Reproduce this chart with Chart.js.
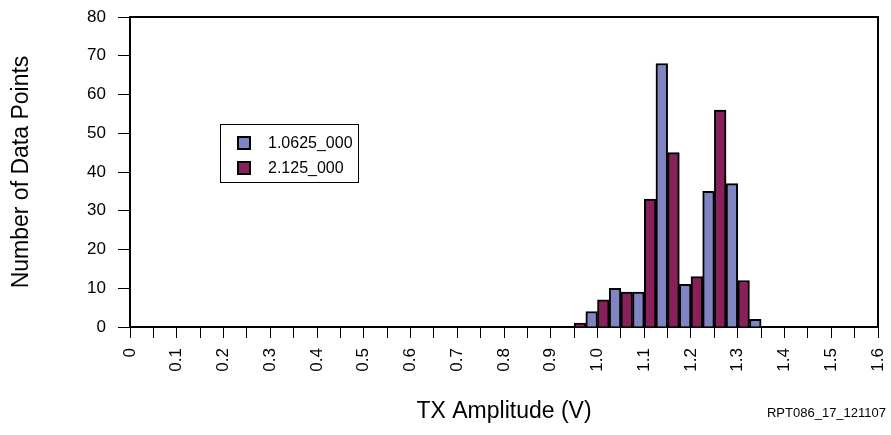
<!DOCTYPE html>
<html>
<head>
<meta charset="utf-8">
<script src="https://cdn.jsdelivr.net/npm/chart.js@4/dist/chart.umd.min.js"></script>
<style>
  html, body { margin: 0; padding: 0; background: #ffffff; }
  #wrap { width: 891px; height: 435px; position: relative; }
</style>
</head>
<body>
<div id="wrap"><canvas id="c" width="891" height="435"></canvas></div>
<script>
// Bins of width 0.05 V from 0 to 1.6 (labelled by their lower edge)
const binStarts = [];
for (let i = 0; i < 32; i++) binStarts.push((i * 5 / 100).toFixed(2));

// Counts per bin (only bins 0.95 .. 1.30 are non-zero)
const series1Label = '1.0625_000';
const series2Label = '2.125_000';
const series1Values = [0,0,0,0,0,0,0,0,0,0,0,0,0,0,0,0,0,0,0,4,10,9,68,11,35,37,2,0,0,0,0,0];
const series2Values = [0,0,0,0,0,0,0,0,0,0,0,0,0,0,0,0,0,0,0,1,7,9,33,45,13,56,12,0,0,0,0,0];

const color1 = '#8084C2';
const color2 = '#88215A';

const yTitle = 'Number of Data Points';
const xTitle = 'TX Amplitude (V)';
const footnote = 'RPT086_17_121107';

const FONT = "'Liberation Sans', Arial, Helvetica, sans-serif";

const framePlugin = {
  id: 'frame',
  afterDraw(chart) {
    const {ctx, chartArea: a} = chart;
    ctx.save();
    ctx.strokeStyle = '#000';
    ctx.lineWidth = 2;
    ctx.beginPath();
    ctx.moveTo(a.left, a.top);
    ctx.lineTo(a.right, a.top);
    ctx.lineTo(a.right, a.bottom);
    ctx.stroke();

    // legend box
    const lx = 220.5, ly = 124.5, lw = 138, lh = 58;
    ctx.lineWidth = 1;
    ctx.strokeStyle = '#000';
    ctx.strokeRect(lx, ly, lw, lh);
    const entries = [
      {label: chart.data.datasets[1].label, color: chart.data.datasets[1].backgroundColor, y: 143},
      {label: chart.data.datasets[0].label, color: chart.data.datasets[0].backgroundColor, y: 168}
    ];
    ctx.font = '16px ' + FONT;
    ctx.textBaseline = 'middle';
    ctx.textAlign = 'left';
    entries.forEach(e => {
      ctx.fillStyle = e.color;
      ctx.fillRect(238, e.y - 6, 12, 12);
      ctx.lineWidth = 2;
      ctx.strokeStyle = '#000';
      ctx.strokeRect(238, e.y - 6, 12, 12);
      ctx.fillStyle = '#000';
      ctx.fillText(e.label, 268, e.y + 1);
    });

    // footnote
    ctx.font = '13px ' + FONT;
    ctx.textAlign = 'right';
    ctx.textBaseline = 'middle';
    ctx.fillStyle = '#000';
    ctx.fillText(footnote, 886, 413);
    ctx.restore();
  }
};

new Chart(document.getElementById('c'), {
  type: 'bar',
  data: {
    labels: binStarts,
    datasets: [
      {label: series2Label, data: series2Values, backgroundColor: color2, borderColor: '#000', borderWidth: 2, xAxisID: 'x', yAxisID: 'y'},
      {label: series1Label, data: series1Values, backgroundColor: color1, borderColor: '#000', borderWidth: 2, xAxisID: 'x', yAxisID: 'y'}
    ]
  },
  options: {
    responsive: false,
    animation: false,
    layout: { padding: { left: 0, top: 17, right: 13, bottom: 0 } },
    datasets: { bar: { categoryPercentage: 1.0, barPercentage: 1.0, borderSkipped: 'bottom' } },
    plugins: { legend: { display: false }, tooltip: { enabled: false } },
    scales: {
      x: {
        type: 'category',
        display: false,
        offset: true,
        grid: { offset: true }
      },
      x2: {
        type: 'linear',
        position: 'bottom',
        min: 0,
        max: 1.6,
        offset: false,
        afterFit(s) { s.height = 108; s.paddingLeft = 0; s.paddingRight = 0; },
        border: { display: true, color: '#000', width: 2 },
        grid: { offset: false, drawOnChartArea: false, drawTicks: true, tickLength: 11, color: '#000', lineWidth: 1 },
        ticks: {
          stepSize: 0.05,
          autoSkip: false,
          minRotation: 90,
          maxRotation: 90,
          padding: 10,
          color: '#000',
          font: { family: FONT, size: 17 },
          callback(v) {
            const k = Math.round(v * 100);
            if (k % 10 !== 0) return '';
            return k === 0 ? '0' : (k / 100).toFixed(1);
          }
        },
        title: { display: true, text: xTitle, color: '#000', font: { family: FONT, size: 23 }, padding: { top: 0, bottom: 10 } }
      },
      y: {
        min: 0,
        max: 80,
        afterFit(s) { s.width = 130; s.paddingTop = 0; s.paddingBottom = 0; },
        border: { display: true, color: '#000', width: 2 },
        grid: { drawOnChartArea: false, drawTicks: true, tickLength: 12, color: '#000', lineWidth: 1 },
        ticks: { stepSize: 10, padding: 12, color: '#000', font: { family: FONT, size: 17 } },
        title: { display: true, text: yTitle, color: '#000', font: { family: FONT, size: 23 }, padding: { top: 8, bottom: 0 } }
      }
    }
  },
  plugins: [framePlugin]
});
</script>
</body>
</html>
